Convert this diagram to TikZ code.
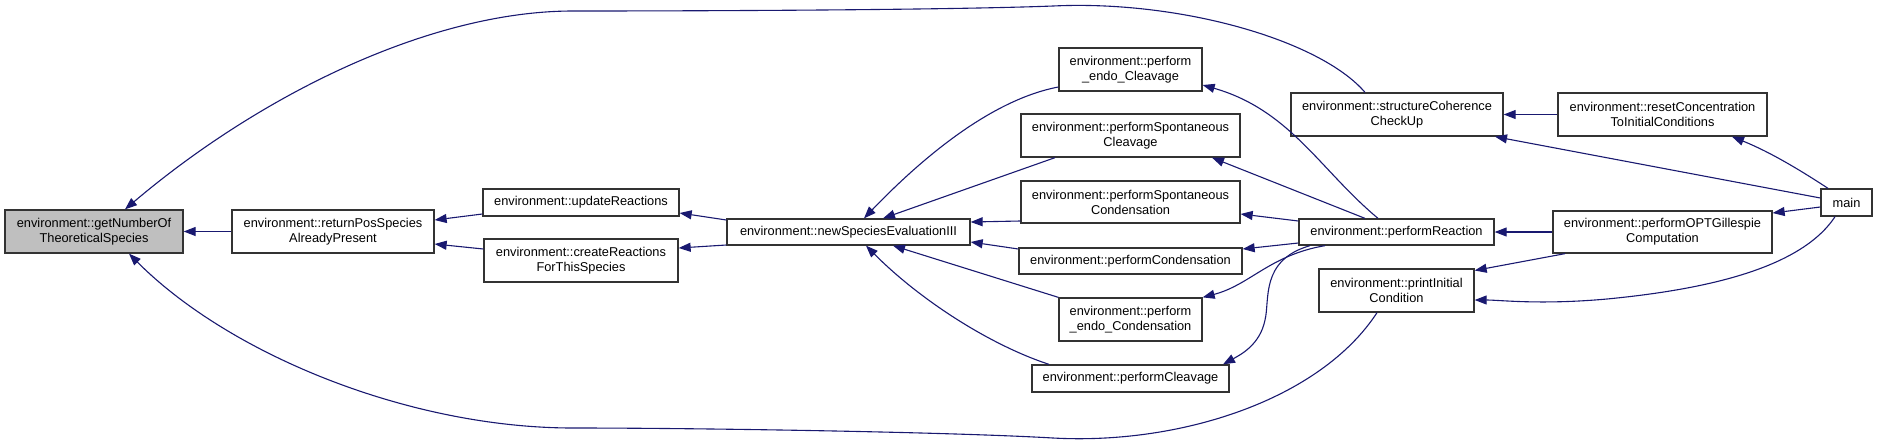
\documentclass[tikz,border=0pt]{standalone}
\usepackage{fontspec}
\setmainfont{Liberation Sans}
\usetikzlibrary{arrows.meta,calc}
\definecolor{edgecol}{HTML}{191970}
\definecolor{boxcol}{HTML}{333333}
\definecolor{selcol}{HTML}{BFBFBF}
\begin{document}
\begin{tikzpicture}[x=1pt,y=-1pt,
  box/.style={draw=boxcol, line width=1.3pt, fill=white, inner sep=0pt, align=center,
    font=\fontsize{12.8}{15}\selectfont},
  edge/.style={draw=edgecol, line width=1.1pt, -{Triangle[length=12pt,width=9pt]}}]
\useasboundingbox (0,0) rectangle (1877,445);

% nodes
\node[box, fill=selcol, minimum width=178pt, minimum height=43pt] (A) at (94,231.5) {environment::getNumberOf\\TheoreticalSpecies};
\node[box, minimum width=202pt, minimum height=43pt] (B) at (333,231.5) {environment::returnPosSpecies\\AlreadyPresent};
\node[box, minimum width=196pt, minimum height=27pt] (C) at (581,202.5) {environment::updateReactions};
\node[box, minimum width=194pt, minimum height=43pt] (D) at (581,260.5) {environment::createReactions\\ForThisSpecies};
\node[box, minimum width=243pt, minimum height=26pt] (E) at (848.5,232) {environment::newSpeciesEvaluationIII};
\node[box, minimum width=143pt, minimum height=43pt] (F) at (1130.5,69.5) {environment::perform\\\_endo\_Cleavage};
\node[box, minimum width=219pt, minimum height=43pt] (G) at (1130.5,135.5) {environment::performSpontaneous\\Cleavage};
\node[box, minimum width=219pt, minimum height=42pt] (H) at (1130.5,202) {environment::performSpontaneous\\Condensation};
\node[box, minimum width=223pt, minimum height=26pt] (I) at (1130.5,261) {environment::performCondensation};
\node[box, minimum width=143pt, minimum height=43pt] (J) at (1130.5,319.5) {environment::perform\\\_endo\_Condensation};
\node[box, minimum width=197pt, minimum height=27pt] (K) at (1130.5,378.5) {environment::performCleavage};
\node[box, minimum width=212pt, minimum height=43pt] (L) at (1397,114.5) {environment::structureCoherence\\CheckUp};
\node[box, minimum width=195pt, minimum height=26pt] (M) at (1396.5,232) {environment::performReaction};
\node[box, minimum width=155pt, minimum height=43pt] (N) at (1396.5,290.5) {environment::printInitial\\Condition};
\node[box, minimum width=209pt, minimum height=43pt] (O) at (1662.5,114.5) {environment::resetConcentration\\ToInitialConditions};
\node[box, minimum width=219pt, minimum height=42pt] (P) at (1662.5,232) {environment::performOPTGillespie\\Computation};
\node[box, minimum width=51pt, minimum height=27pt] (Q) at (1846.5,202.5) {main};

% edges into A
\draw[edge] (B.west) -- (A.east);
\draw[edge] ($(L.north)+(-32,0)$) .. controls (1320,40) and (1180,0) .. (1053,6)
  .. controls (950,10) and (700,11) .. (573,11)
  .. controls (430,11) and (260,95) .. ($(A.north)+(31,0)$);
\draw[edge] ($(N.south)+(-19.5,0)$) .. controls (1320,400) and (1180,445) .. (1053,438)
  .. controls (950,432) and (700,428) .. (573,428)
  .. controls (410,428) and (230,355) .. ($(A.south)+(35,0)$);

% edges into B
\draw[edge] ($(C.west)+(0,11.5)$) -- ($(B.east)+(0,-11.5)$);
\draw[edge] ($(D.west)+(0,-11.5)$) -- ($(B.east)+(0,12.5)$);

% edges into C, D
\draw[edge] ($(E.west)+(0,-12)$) -- ($(C.east)+(0,10.5)$);
\draw[edge] ($(E.west)+(0,13)$) -- ($(D.east)+(0,-12.5)$);

% edges into E
\draw[edge] ($(F.west)+(0,17.5)$) .. controls (990,100) and (920,160) .. ($(E.north)+(15.5,0)$);
\draw[edge] ($(G.south)+(-75.5,0)$) -- ($(E.north)+(34.5,0)$);
\draw[edge] ($(H.west)+(0,19)$) -- ($(E.east)+(0,-10)$);
\draw[edge] ($(I.west)+(0,-12)$) -- ($(E.east)+(0,10)$);
\draw[edge] (J.north west) -- ($(E.south)+(44.5,0)$);
\draw[edge] ($(K.north)+(-81.5,0)$) .. controls (990,345) and (920,300) .. ($(E.south)+(17.5,0)$);

% edges from M
\draw[edge] ($(M.north)+(-18.5,0)$) .. controls (1320,170) and (1290,110) .. ($(F.east)+(0,15.5)$);
\draw[edge] ($(M.north)+(-31.5,0)$) -- ($(G.south)+(81.5,0)$);
\draw[edge] ($(M.west)+(0,-11)$) -- ($(H.east)+(0,12)$);
\draw[edge] ($(M.west)+(0,11)$) -- ($(I.east)+(0,-12)$);
\draw[edge] ($(M.south)+(-71.5,0)$) .. controls (1270,255) and (1250,285) .. (J.north east);
\draw[edge] ($(M.south)+(-86.5,0)$) .. controls (1260,260) and (1270,300) .. (1265,320)
  .. controls (1260,345) and (1240,355) .. ($(K.north)+(92.5,0)$);

% right part
\draw[edge] (O.west) -- (L.east);
\draw[edge] ($(Q.west)+(0,-4.5)$) -- ($(L.south)+(98,0)$);
\draw[edge] ($(Q.north)+(-18.5,0)$) .. controls (1800,170) and (1770,152) .. ($(O.south)+(69.5,0)$);
\draw[edge] ($(Q.west)+(0,4.5)$) -- ($(P.east)+(0,-19)$);
\draw[edge] ($(Q.south)+(-11.5,0)$) .. controls (1800,270) and (1700,290) .. (1607,299)
  .. controls (1540,305) and (1500,300) .. ($(N.east)+(0,9.5)$);
\draw[edge] (P.west) -- (M.east);
\draw[edge] ($(P.south)+(-97.5,0)$) -- ($(N.east)+(0,-20)$);
\end{tikzpicture}
\end{document}
